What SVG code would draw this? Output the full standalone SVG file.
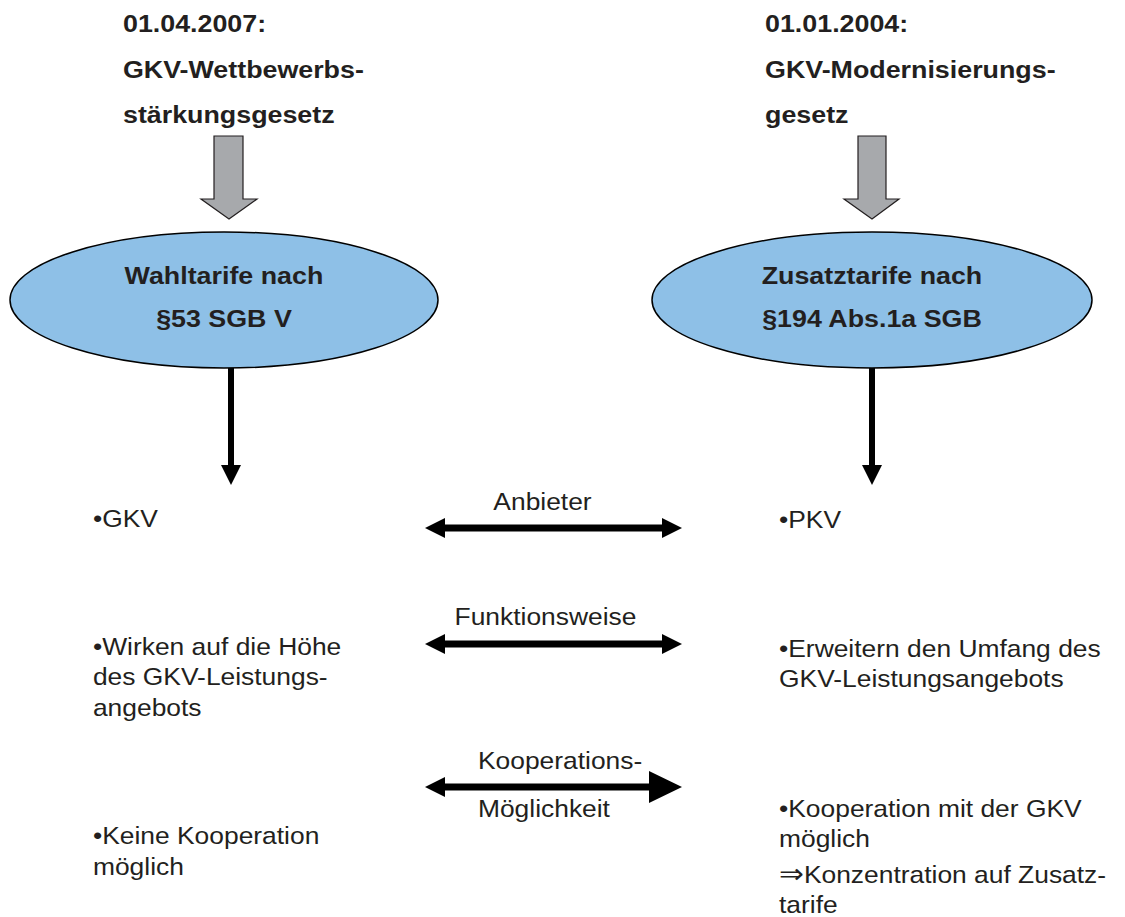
<svg xmlns="http://www.w3.org/2000/svg" width="1125" height="917" viewBox="0 0 1125 917">
<defs>
<style>
text{font-family:"Liberation Sans",Arial,Helvetica,sans-serif;font-size:24px;fill:#231f20}
.b{font-weight:bold;font-size:24.4px}
.m{text-anchor:middle}
.ell{fill:#8ec0e7;stroke:#000;stroke-width:1.5}
.blk{fill:#a7a9ac;stroke:#231f20;stroke-width:1.2}
.con{stroke:#000;fill:none}
.sym{font-family:"DejaVu Sans",sans-serif;font-size:27px}
</style>
<marker id="ah" markerUnits="userSpaceOnUse" markerWidth="20" markerHeight="20" viewBox="0 0 20 20" refX="5" refY="10" orient="auto-start-reverse"><path d="M0,0 L20,10 L0,20 z" fill="#000"/></marker>
<marker id="ahBig" markerUnits="userSpaceOnUse" markerWidth="33" markerHeight="32" viewBox="0 0 33 32" refX="18" refY="16" orient="auto"><path d="M0,0 L33,16 L0,32 z" fill="#000"/></marker>
</defs>
<rect width="1125" height="917" fill="#fff"/>

<g id="title-left">
<text class="b" transform="scale(1.1 1)" x="111.8" y="32">01.04.2007:</text>
<text class="b" transform="scale(1.1 1)" x="111.8" y="78">GKV-Wettbewerbs-</text>
<text class="b" transform="scale(1.1 1)" x="111.8" y="123">stärkungsgesetz</text>
</g>
<g id="title-right">
<text class="b" transform="scale(1.1 1)" x="695.5" y="32">01.01.2004:</text>
<text class="b" transform="scale(1.1 1)" x="695.5" y="78">GKV-Modernisierungs-</text>
<text class="b" transform="scale(1.1 1)" x="695.5" y="123">gesetz</text>
</g>

<g id="connectors">
<path class="blk" d="M214,136 H243 V199 H257 L229,219 L201,199 H214 Z"/>
<path class="blk" d="M858,136 H886 V199 H899 L872,219 L844,199 H858 Z"/>
<line class="con" x1="231" y1="368" x2="231" y2="470" stroke-width="6" marker-end="url(#ah)"/>
<line class="con" x1="872" y1="368" x2="872" y2="470" stroke-width="6" marker-end="url(#ah)"/>
<line class="con" x1="440" y1="528" x2="667" y2="528" stroke-width="7" marker-start="url(#ah)" marker-end="url(#ah)"/>
<line class="con" x1="440" y1="644" x2="667" y2="644" stroke-width="7" marker-start="url(#ah)" marker-end="url(#ah)"/>
<line class="con" x1="440" y1="787" x2="667" y2="787" stroke-width="7" marker-start="url(#ah)" marker-end="url(#ahBig)"/>
</g>

<g id="node-wahltarife">
<ellipse class="ell" cx="224" cy="300" rx="214" ry="68"/>
<text class="b m" transform="scale(1.1 1)" x="203.6" y="284">Wahltarife nach</text>
<text class="b m" transform="scale(1.1 1)" x="203.6" y="327">§53 SGB V</text>
</g>
<g id="node-zusatztarife">
<ellipse class="ell" cx="872" cy="300" rx="220" ry="68"/>
<text class="b m" transform="scale(1.1 1)" x="792.7" y="284">Zusatztarife nach</text>
<text class="b m" transform="scale(1.1 1)" x="792.7" y="327">§194 Abs.1a SGB</text>
</g>

<g id="labels">
<text class="m" transform="scale(1.1 1)" x="493.2" y="510">Anbieter</text>
<text class="m" transform="scale(1.1 1)" x="495.9" y="625">Funktionsweise</text>
<text transform="scale(1.1 1)" x="434.5" y="769">Kooperations-</text>
<text transform="scale(1.1 1)" x="434.5" y="817">Möglichkeit</text>
</g>

<g id="left-items">
<text transform="scale(1.1 1)" x="84.5" y="527">•GKV</text>
<text transform="scale(1.1 1)" x="84.5" y="655">•Wirken auf die Höhe</text>
<text transform="scale(1.1 1)" x="84.5" y="685">des GKV-Leistungs-</text>
<text transform="scale(1.1 1)" x="84.5" y="716">angebots</text>
<text transform="scale(1.1 1)" x="84.5" y="844">•Keine Kooperation</text>
<text transform="scale(1.1 1)" x="84.5" y="875">möglich</text>
</g>

<g id="right-items">
<text transform="scale(1.1 1)" x="708.2" y="528">•PKV</text>
<text transform="scale(1.1 1)" x="708.2" y="657">•Erweitern den Umfang des</text>
<text transform="scale(1.1 1)" x="708.2" y="687">GKV-Leistungsangebots</text>
<text transform="scale(1.1 1)" x="708.2" y="817">•Kooperation mit der GKV</text>
<text transform="scale(1.1 1)" x="708.2" y="847">möglich</text>
<text transform="scale(1.1 1)" x="708.2" y="883"><tspan class="sym">⇒</tspan>Konzentration auf Zusatz-</text>
<text transform="scale(1.1 1)" x="708.2" y="913">tarife</text>
</g>
</svg>
